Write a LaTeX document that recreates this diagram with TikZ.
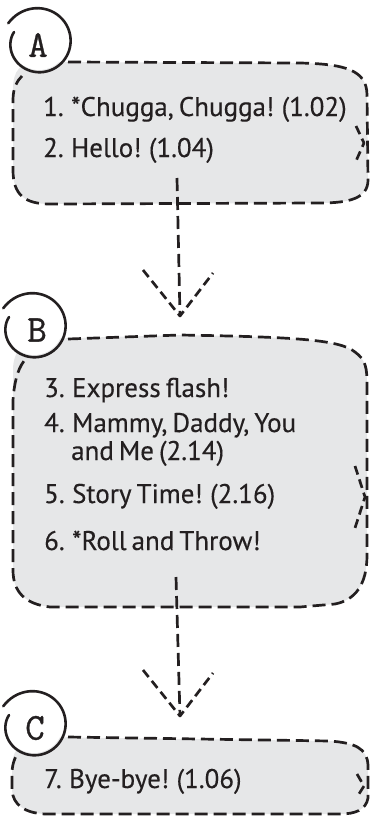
\documentclass[tikz,border=0pt]{standalone}
\usepackage{fontspec}
\setmainfont{PT Sans}[FakeBold=0.3, WordSpace=0.7]
\newfontfamily\letterfont{Latin Modern Mono}[FakeBold=0.8]
\definecolor{ink}{HTML}{231F20}
\definecolor{boxgray}{HTML}{E6E7E8}
\tikzset{
  dashline/.style={draw=ink, line width=2.7pt, dash pattern=on 13pt off 6pt, line join=round},
  smalldash/.style={draw=ink, line width=2.7pt, dash pattern=on 9pt off 5pt, line join=round},
  boxfill/.style={fill=boxgray},
  item/.style={anchor=base west, inner sep=0pt, font=\fontsize{27}{30}\selectfont, text=ink},
  letter/.style={font=\letterfont\fontsize{38}{38}\selectfont, text=ink, inner sep=0pt},
  loopline/.style={draw=ink, line width=2.6pt, line cap=round},
  loopmark/.pic={
    \fill[white] (0,0) circle (29);
    \draw[loopline] plot[smooth, domain=0:1, samples=60, variable=\t]
      ({(31.5+4*(1-\t)^6-5*\t^8)*cos(150-350*\t)}, {-(31.5+4*(1-\t)^6-5*\t^8)*sin(150-350*\t)});
  }
}
\begin{document}
\begin{tikzpicture}[x=1pt,y=-1pt]
\useasboundingbox (0,0) rectangle (370,817);

% ---------- Box A ----------
\path[boxfill] (40,62) -- (300,63) .. controls (345,64) and (367,70) .. (367,95) -- (368,180)
  .. controls (368,198) and (350,203) .. (320,203) -- (50,204) .. controls (25,204) and (13,195) .. (13,170)
  -- (13,90) .. controls (13,70) and (20,62) .. (40,62) -- cycle;
\draw[dashline] (68,62) -- (300,63) .. controls (345,64) and (367,70) .. (367,95) -- (368,180)
  .. controls (368,198) and (350,203) .. (320,203) -- (50,204) .. controls (25,204) and (13,195) .. (13,170)
  -- (13,100) .. controls (13,88) and (17,81) .. (22,76);
\draw[smalldash] (356,126) -- (364,143) -- (356,161);
\pic at (39,41) {loopmark};
\node[letter] (la) at (38,45) {A};
\node[item] (t1) at (43,116) {1. *Chugga, Chugga! (1.02)};
\node[item] (t2) at (43,157) {2. Hello! (1.04)};

% ---------- Box B ----------
\path[boxfill] (40,339) -- (180,335) .. controls (300,337) and (340,340) .. (355,352)
  .. controls (366,360) and (367,368) .. (367,385) -- (367,555) .. controls (367,585) and (355,600) .. (335,604)
  -- (300,607) -- (50,607) .. controls (25,604) and (13,592) .. (13,570) -- (13,370)
  .. controls (13,350) and (25,340) .. (40,339) -- cycle;
\draw[dashline] (68,339) -- (180,335) .. controls (300,337) and (340,340) .. (355,352)
  .. controls (366,360) and (367,368) .. (367,385) -- (367,555) .. controls (367,585) and (355,600) .. (335,604)
  -- (300,607) -- (50,607) .. controls (25,604) and (13,592) .. (13,570) -- (13,400)
  .. controls (14,385) and (17,370) .. (24,361);
\draw[smalldash] (355,466) -- (365,497) -- (355,528);
\pic at (34,326) {loopmark};
\node[letter] (lb) at (37,330) {B};
\node[item] (t3) at (44,397) {3. Express flash!};
\node[item] (t4) at (44,432) {4. Mammy, Daddy, You};
\node[item] (t4b) at (71,460) {and Me (2.14)};
\node[item] (t5) at (44,503) {5. Story Time! (2.16)};
\node[item] (t6) at (44,550) {6. *Roll and Throw!};

% ---------- Box C ----------
\path[boxfill] (40,737) -- (330,741) .. controls (355,743) and (367,748) .. (368,765) -- (368,798)
  .. controls (366,810) and (355,814) .. (340,814) -- (45,814) .. controls (25,813) and (13,805) .. (12,790)
  -- (12,765) .. controls (13,747) and (25,738) .. (40,737) -- cycle;
\draw[dashline] (68,737) -- (330,741) .. controls (355,743) and (367,748) .. (368,765) -- (368,798)
  .. controls (366,810) and (355,814) .. (340,814) -- (45,814) .. controls (25,813) and (13,805) .. (12,790)
  -- (12,775) .. controls (12,765) and (14,760) .. (17,754);
\draw[smalldash] (357,774) -- (364,786) -- (357,797);
\pic at (34,724) {loopmark};
\node[letter] (lc) at (35,728) {C};
\node[item] (t7) at (44,788) {7. Bye-bye! (1.06)};

% ---------- Connectors ----------
\coordinate (aOut) at (177,178);
\coordinate (bIn) at (180,316);
\coordinate (bArmL) at (143,270);
\coordinate (bArmR) at (213,273);
\draw[dashline] (aOut) -- (bIn);
\draw[smalldash] (bArmL) -- (bIn) -- (bArmR);

\coordinate (bOut) at (176,577);
\coordinate (cIn) at (180,716);
\coordinate (cArmL) at (143,670);
\coordinate (cArmR) at (213,673);
\draw[dashline] (bOut) -- (cIn);
\draw[smalldash] (cArmL) -- (cIn) -- (cArmR);
\end{tikzpicture}
\end{document}
